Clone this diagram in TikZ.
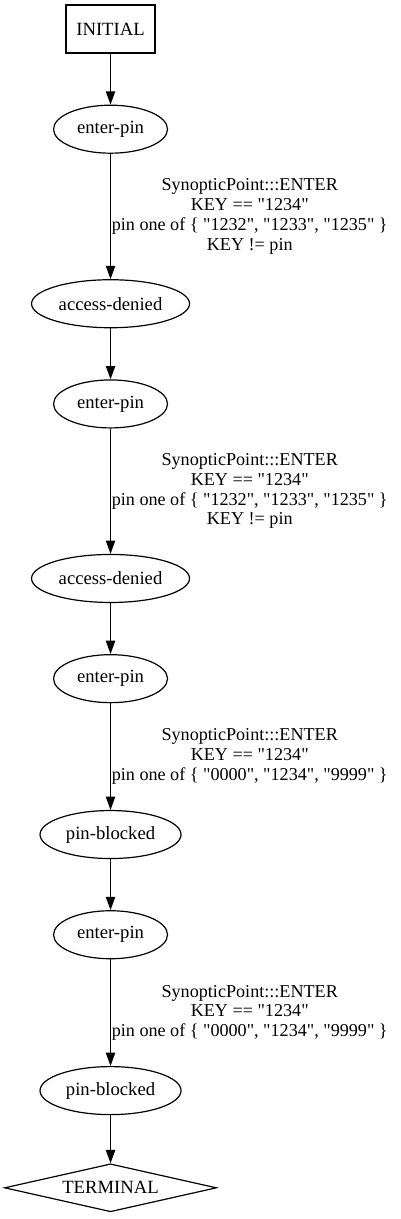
\documentclass[tikz,border=0pt]{standalone}
\usepackage{fontspec}
\setmainfont{Liberation Serif}[Ligatures=TeXOff]
\usetikzlibrary{shapes.geometric, arrows.meta, positioning}

\begin{document}
\begin{tikzpicture}[
    node distance=38.25pt,
    font=\fontsize{14}{14.8}\selectfont,
    startbox/.style={rectangle, draw, line width=0.9pt, minimum width=66.75pt, minimum height=36pt, inner sep=0pt},
    state/.style={ellipse, draw, line width=0.9pt, minimum height=36pt, inner sep=0pt},
    terminal/.style={diamond, draw, line width=0.9pt, aspect=4.4, minimum width=159pt, minimum height=36pt, inner sep=0pt},
    arrow/.style={-{Triangle[length=10pt, width=7pt]}, line width=0.9pt},
    cond/.style={midway, right, align=center, inner sep=0.5pt, font=\fontsize{13.6}{14.8}\selectfont}
]
    \useasboundingbox (0,0) rectangle (300pt,-914.25pt);

    \node[startbox] (init) at (82.9pt,-21.75pt) {INITIAL};
    \node[state, minimum width=85.5pt, below=of init] (pin1) {enter-pin};
    \node[state, minimum width=118.5pt, below=94pt of pin1] (denied1) {access-denied};
    \node[state, minimum width=85.5pt, below=of denied1] (pin2) {enter-pin};
    \node[state, minimum width=118.5pt, below=94pt of pin2] (denied2) {access-denied};
    \node[state, minimum width=85.5pt, below=of denied2] (pin3) {enter-pin};
    \node[state, minimum width=105.75pt, below=80pt of pin3] (blocked1) {pin-blocked};
    \node[state, minimum width=85.5pt, below=of blocked1] (pin4) {enter-pin};
    \node[state, minimum width=105.75pt, below=80pt of pin4] (blocked2) {pin-blocked};
    \node[terminal, below=36pt of blocked2] (term) {TERMINAL};

    \draw[arrow] (init) -- (pin1);
    \draw[arrow] (pin1) -- node[cond] {SynopticPoint:::ENTER\\KEY == "1234"\\pin one of \{ "1232", "1233", "1235" \}\\KEY != pin} (denied1);
    \draw[arrow] (denied1) -- (pin2);
    \draw[arrow] (pin2) -- node[cond] {SynopticPoint:::ENTER\\KEY == "1234"\\pin one of \{ "1232", "1233", "1235" \}\\KEY != pin} (denied2);
    \draw[arrow] (denied2) -- (pin3);
    \draw[arrow] (pin3) -- node[cond] {SynopticPoint:::ENTER\\KEY == "1234"\\pin one of \{ "0000", "1234", "9999" \}} (blocked1);
    \draw[arrow] (blocked1) -- (pin4);
    \draw[arrow] (pin4) -- node[cond] {SynopticPoint:::ENTER\\KEY == "1234"\\pin one of \{ "0000", "1234", "9999" \}} (blocked2);
    \draw[arrow] (blocked2) -- (term);
\end{tikzpicture}
\end{document}
